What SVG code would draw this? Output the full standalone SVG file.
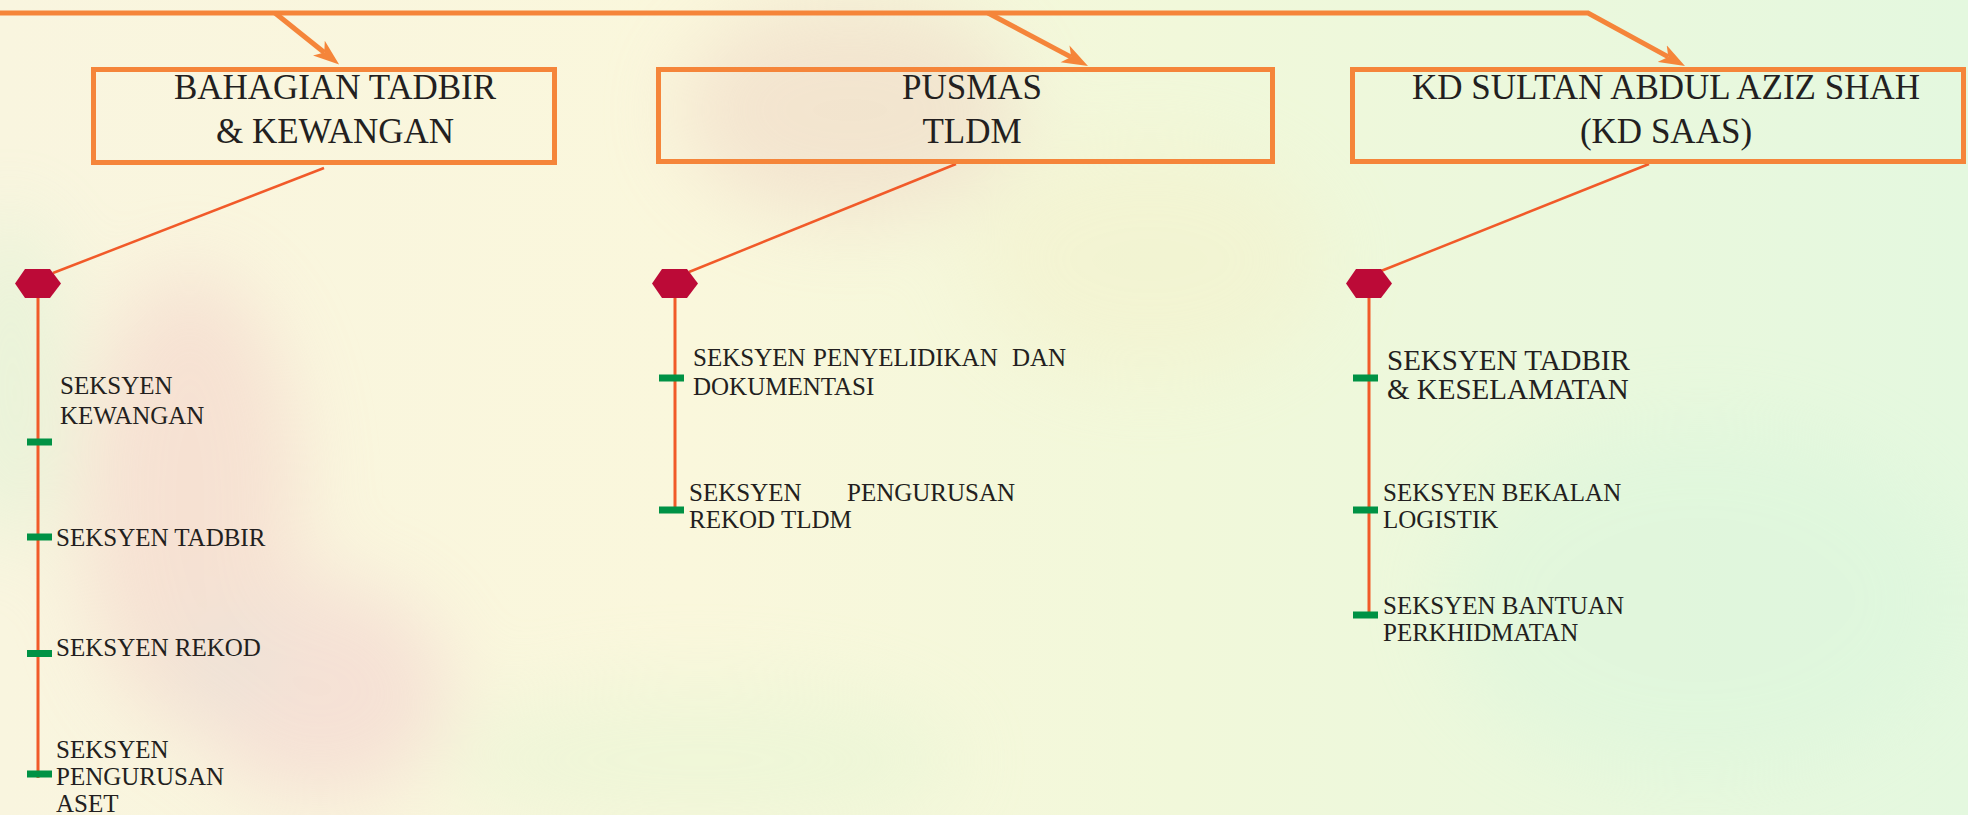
<svg xmlns="http://www.w3.org/2000/svg" width="1968" height="815" viewBox="0 0 1968 815">
<defs>
  <linearGradient id="bg" x1="0" y1="0" x2="1" y2="0">
    <stop offset="0" stop-color="#f9f5df"/>
    <stop offset="0.35" stop-color="#faf7dc"/>
    <stop offset="0.6" stop-color="#f1f8da"/>
    <stop offset="1" stop-color="#e4f8df"/>
  </linearGradient>
  <filter id="blur" x="-50%" y="-50%" width="200%" height="200%">
    <feGaussianBlur stdDeviation="40"/>
  </filter>
  <marker id="ah" viewBox="0 -10 27 20" markerWidth="27" markerHeight="20" refX="7" refY="0" orient="auto" markerUnits="userSpaceOnUse">
    <path d="M26,0 L0,-9.5 L7,0 L0,9.5 Z" fill="#f5853a"/>
  </marker>
  <path id="hex" d="M-23,0 L-13,-14.5 L12,-14.5 L23,0 L12,14.5 L-13,14.5 Z"/>
</defs>
<style>
  .box { fill: none; stroke: #f5853a; stroke-width: 5; }
  .main { fill: none; stroke: #f5853a; stroke-width: 5; }
  .thin { fill: none; stroke: #f15a29; stroke-width: 2.5; }
  .vline { fill: none; stroke: #f15a29; stroke-width: 3; }
  .hex { fill: #bc0a37; }
  .tick { fill: #009245; }
  .t { fill: #231f20; }
  .head { font-size: 35px; text-anchor: middle; }
  .sub { font-size: 25px; }
  .subl { font-size: 29px; }
</style>

<!-- background -->
<rect x="0" y="0" width="1968" height="815" fill="url(#bg)"/>
<g filter="url(#blur)" opacity="0.4">
  <ellipse cx="190" cy="500" rx="110" ry="230" fill="#f2c4c2"/>
  <ellipse cx="320" cy="690" rx="130" ry="110" fill="#f0c2c9"/>
  <ellipse cx="850" cy="110" rx="170" ry="110" fill="#ecc9bd"/>
  <ellipse cx="1150" cy="260" rx="180" ry="120" fill="#f4efc8"/>
  <ellipse cx="10" cy="380" rx="50" ry="170" fill="#cdf0cf"/>
  <ellipse cx="1700" cy="600" rx="260" ry="180" fill="#d6f5dc"/>
  <ellipse cx="700" cy="760" rx="260" ry="80" fill="#e0f5d2"/>
  <ellipse cx="230" cy="660" rx="45" ry="35" fill="#c9c9d0"/>
</g>

<!-- connectors -->
<g id="connectors">
  <path class="main" d="M0,13 H1588 L1668.3,56.9" marker-end="url(#ah)"/>
  <path class="main" d="M275,13 L324.3,52.5" marker-end="url(#ah)"/>
  <path class="main" d="M988,13 L1071.2,57.1" marker-end="url(#ah)"/>
  <path class="thin" d="M324,168 L53,273"/>
  <path class="thin" d="M956,164 L689,272"/>
  <path class="thin" d="M1649,164 L1381,271"/>
  <path class="vline" d="M38,298 V778"/>
  <path class="vline" d="M675,298 V512"/>
  <path class="vline" d="M1369,298 V617"/>
</g>

<!-- top boxes -->
<g id="box-bahagian" font-family="'Liberation Serif', 'DejaVu Serif', serif">
  <rect class="box" x="93.5" y="69.5" width="461" height="93"/>
  <text class="t head" x="335" y="99">BAHAGIAN TADBIR</text>
  <text class="t head" x="335" y="143">&amp; KEWANGAN</text>
</g>
<g id="box-pusmas" font-family="'Liberation Serif', 'DejaVu Serif', serif">
  <rect class="box" x="658.5" y="69.5" width="614" height="92"/>
  <text class="t head" x="972" y="99">PUSMAS</text>
  <text class="t head" x="972" y="143">TLDM</text>
</g>
<g id="box-kdsaas" font-family="'Liberation Serif', 'DejaVu Serif', serif">
  <rect class="box" x="1352.5" y="69.5" width="611" height="92"/>
  <text class="t head" x="1666" y="99">KD SULTAN ABDUL AZIZ SHAH</text>
  <text class="t head" x="1666" y="143">(KD SAAS)</text>
</g>

<!-- hexagon hubs -->
<g id="hub-1"><use href="#hex" class="hex" x="38" y="283.5"/></g>
<g id="hub-2"><use href="#hex" class="hex" x="675" y="283.5"/></g>
<g id="hub-3"><use href="#hex" class="hex" x="1369" y="283.5"/></g>

<!-- column 1 -->
<g id="s-kewangan" font-family="'Liberation Serif', 'DejaVu Serif', serif">
  <rect class="tick" x="27" y="438.5" width="25" height="7"/>
  <text class="t sub" x="60" y="394">SEKSYEN</text>
  <text class="t sub" x="60" y="424">KEWANGAN</text>
</g>
<g id="s-tadbir" font-family="'Liberation Serif', 'DejaVu Serif', serif">
  <rect class="tick" x="27" y="533.5" width="25" height="7"/>
  <text class="t sub" x="56" y="546">SEKSYEN TADBIR</text>
</g>
<g id="s-rekod" font-family="'Liberation Serif', 'DejaVu Serif', serif">
  <rect class="tick" x="27" y="650" width="25" height="7"/>
  <text class="t sub" x="56" y="656">SEKSYEN REKOD</text>
</g>
<g id="s-aset" font-family="'Liberation Serif', 'DejaVu Serif', serif">
  <rect class="tick" x="27" y="770.5" width="25" height="7"/>
  <text class="t sub" x="56" y="758">SEKSYEN</text>
  <text class="t sub" x="56" y="785">PENGURUSAN</text>
  <text class="t sub" x="56" y="812">ASET</text>
</g>

<!-- column 2 -->
<g id="s-penyelidikan" font-family="'Liberation Serif', 'DejaVu Serif', serif">
  <rect class="tick" x="659" y="374.5" width="25" height="7"/>
  <text class="t sub" y="366"><tspan x="693">SEKSYEN</tspan><tspan x="813">PENYELIDIKAN</tspan><tspan x="1012">DAN</tspan></text>
  <text class="t sub" x="693" y="395">DOKUMENTASI</text>
</g>
<g id="s-rekod-tldm" font-family="'Liberation Serif', 'DejaVu Serif', serif">
  <rect class="tick" x="659" y="506.5" width="25" height="7"/>
  <text class="t sub" y="501"><tspan x="689">SEKSYEN</tspan><tspan x="847">PENGURUSAN</tspan></text>
  <text class="t sub" x="689" y="528">REKOD TLDM</text>
</g>

<!-- column 3 -->
<g id="s-keselamatan" font-family="'Liberation Serif', 'DejaVu Serif', serif">
  <rect class="tick" x="1353" y="374.5" width="25" height="7"/>
  <text class="t subl" x="1387" y="370">SEKSYEN TADBIR</text>
  <text class="t subl" x="1387" y="399">&amp; KESELAMATAN</text>
</g>
<g id="s-logistik" font-family="'Liberation Serif', 'DejaVu Serif', serif">
  <rect class="tick" x="1353" y="506.5" width="25" height="7"/>
  <text class="t sub" x="1383" y="501">SEKSYEN BEKALAN</text>
  <text class="t sub" x="1383" y="528">LOGISTIK</text>
</g>
<g id="s-perkhidmatan" font-family="'Liberation Serif', 'DejaVu Serif', serif">
  <rect class="tick" x="1353" y="611.5" width="25" height="7"/>
  <text class="t sub" x="1383" y="614">SEKSYEN BANTUAN</text>
  <text class="t sub" x="1383" y="641">PERKHIDMATAN</text>
</g>
</svg>
